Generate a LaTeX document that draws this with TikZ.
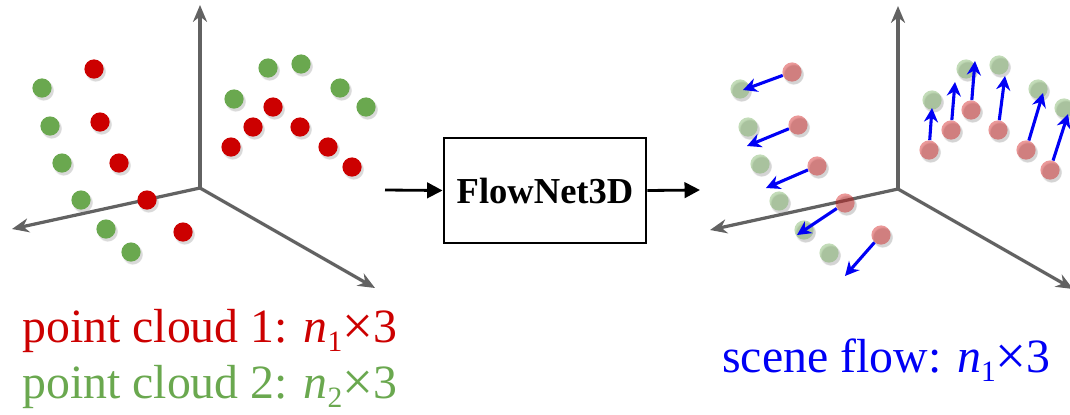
\documentclass[tikz,border=0pt]{standalone}
\usepackage{fontspec}
\setmainfont{Liberation Serif}
\usetikzlibrary{positioning,arrows.meta,shadows}
\definecolor{pcRed}{RGB}{204,0,0}
\definecolor{pcGreen}{RGB}{106,168,79}
\definecolor{axGray}{RGB}{98,98,98}
\definecolor{sfBlue}{RGB}{0,0,245}

\tikzset{
  axis/.style={draw=axGray, line width=2.3pt, -{Stealth[length=12pt,width=10pt]}},
  dot/.style={circle, inner sep=0pt, minimum size=0.48cm,
    circular drop shadow={shadow xshift=1pt, shadow yshift=-1.5pt, opacity=.3}},
  faded/.style={dot, fill opacity=.4,
    circular drop shadow={shadow xshift=1pt, shadow yshift=-1.5pt, opacity=.06}},
  flowarrow/.style={draw=sfBlue, line width=2.2pt, -{Stealth[length=10pt,width=10pt]}},
  netbox/.style={draw, line width=2pt, minimum width=5.05cm, minimum height=2.62cm,
    font=\fontsize{26}{30}\selectfont\bfseries},
  pipe/.style={line width=2pt, -{Triangle[length=11pt,width=11pt]}},
  caption/.style={anchor=base west, inner sep=0pt, font=\fontsize{34}{40}\selectfont}
}
\newcommand\sizeof[1]{\textit{n}\raisebox{-0.2em}{\fontsize{21}{21}\selectfont #1}\raisebox{-0.06em}{\scalebox{1.15}{×}}3}

% the two clouds (pixel coordinates, origin top left)
\def\redpts{94/69, 100/122, 119/163, 147/200, 183/232, 273/107, 253/127, 300/127, 231/147, 328/147, 352/167}
\def\greenpts{42/88, 50/126, 62/163, 81/200, 106/229, 131/252, 268/68, 301/64, 340/88, 366/107, 234/99}

\begin{document}
\begin{tikzpicture}[x=0.025cm, y=-0.025cm]
  \useasboundingbox (0,0) rectangle (1070,414);

  % input: two point clouds
  \coordinate (o) at (200,188);
  \coordinate (oz) at (200,5);
  \coordinate (ox) at (12,229);
  \coordinate (oy) at (375,288);
  \draw[axis] (o) -- (oz);
  \draw[axis] (o) -- (ox);
  \draw[axis] (o) -- (oy);
  \foreach \x/\y [count=\i] in \greenpts
    \node[dot, fill=pcGreen] (g\i) at (\x,\y) {};
  \foreach \x/\y [count=\i] in \redpts
    \node[dot, fill=pcRed] (r\i) at (\x,\y) {};

  % network
  \node[netbox] (net) at (545,190.5) {FlowNet3D};
  \coordinate (in) at (385,190);
  \coordinate (out) at (700,190);
  \draw[pipe] (in) -- (net.west);
  \draw[pipe] (net.east) -- (out);

  % output: scene flow
  \begin{scope}[shift={(698,1)}]
    \coordinate (fo) at (200,188);
    \coordinate (foz) at (200,5);
    \coordinate (fox) at (12,229);
    \coordinate (foy) at (375,288);
    \draw[axis] (fo) -- (foz);
    \draw[axis] (fo) -- (fox);
    \draw[axis] (fo) -- (foy);
    \foreach \x/\y [count=\i] in \greenpts
      \node[faded, fill=pcGreen] (fg\i) at (\x,\y) {};
    \foreach \x/\y [count=\i] in \redpts
      \node[faded, fill=pcRed] (fr\i) at (\x,\y+2) {};
  \end{scope}
  \foreach \x/\y [count=\i] in {743/90, 747/146, 766/188, 797/235, 845/276, 975/61, 955/82, 1005/76, 932/108, 1043/93, 1068/114}
    \coordinate (t\i) at (\x,\y);
  \foreach \i in {1,...,11}
    \draw[flowarrow] (fr\i) -- (t\i);

  % labels
  \node[caption, text=pcRed] (lab1) at (22,342) {point cloud 1: \sizeof{1}};
  \node[caption, text=pcGreen] (lab2) at (22,398) {point cloud 2: \sizeof{2}};
  \node[caption, text=sfBlue] (lab3) at (722,372) {scene flow: \sizeof{1}};
\end{tikzpicture}
\end{document}
